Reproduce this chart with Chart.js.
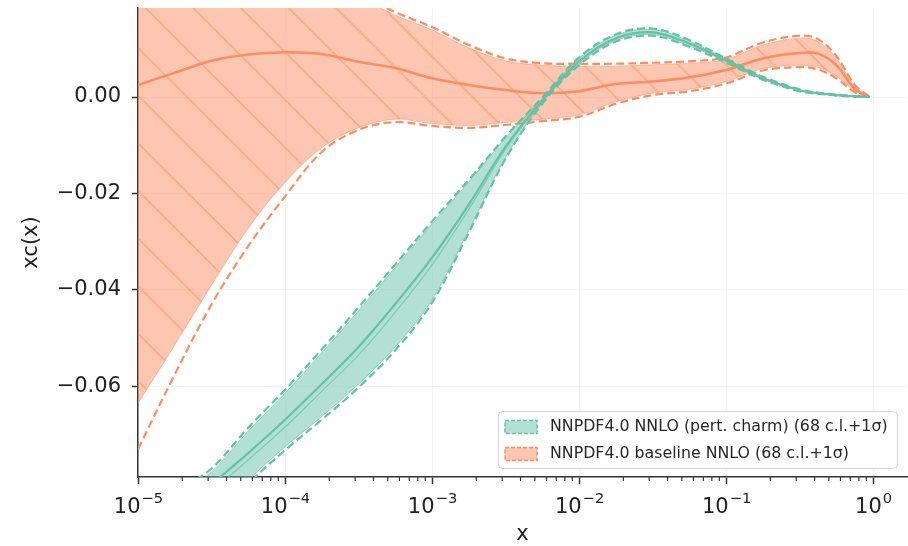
<!DOCTYPE html>
<html lang="en">
<head>
<meta charset="UTF-8">
<title>xc(x) - NNPDF4.0</title>
<script src="https://cdn.jsdelivr.net/npm/chart.js@4.4.1/dist/chart.umd.min.js"></script>
<style>
    html, body { margin: 0; padding: 0; background: #fff; }
</style>
</head>
<body>
<canvas id="pdfChart" width="908" height="546"></canvas>
<script>
// x grid (log spaced) shared by every curve
const xValues = [1e-5, 1.778e-5, 3.162e-5, 5.623e-5, 1e-4, 1.778e-4, 3.162e-4, 5.623e-4,
    1e-3, 1.778e-3, 3.162e-3, 5.623e-3, 1e-2, 1.778e-2, 3.162e-2, 5.623e-2,
    0.1, 0.1778, 0.3162, 0.4217, 0.5623, 0.75, 0.95];

// NNPDF4.0 baseline NNLO (orange)
const baseCentral = [0.0025, 0.0050, 0.0075, 0.0088, 0.0093, 0.0089, 0.0073, 0.0060,
    0.0039, 0.0025, 0.00145, 0.0008, 0.0012, 0.0027, 0.0032, 0.0041,
    0.0056, 0.0080, 0.0091, 0.0090, 0.0066, 0.0017, 0.0];
const baseUpper = [0.070, 0.062, 0.050, 0.040, 0.032, 0.026, 0.0208, 0.0170,
    0.0139, 0.0102, 0.0075, 0.0066, 0.0064, 0.0064, 0.0067, 0.0070,
    0.0078, 0.0108, 0.0122, 0.0115, 0.0080, 0.0022, 0.0];
const baseLower = [-0.0635, -0.0514, -0.0390, -0.0272, -0.0177, -0.0105, -0.0064, -0.0046,
    -0.0055, -0.0059, -0.0053, -0.0046, -0.0037, -0.0010, 0.0008, 0.0016,
    0.0032, 0.0059, 0.0066, 0.0061, 0.0043, 0.0013, 0.0];
const baseSigmaUp = [0.071, 0.063, 0.051, 0.041, 0.033, 0.027, 0.0216, 0.0176,
    0.0145, 0.0108, 0.0080, 0.0070, 0.0069, 0.0069, 0.0071, 0.0074,
    0.0082, 0.0113, 0.0127, 0.0120, 0.0085, 0.0025, 0.0];
const baseSigmaDn = [-0.0730, -0.0575, -0.0430, -0.0309, -0.0206, -0.0114, -0.0068, -0.0052,
    -0.0060, -0.0064, -0.0058, -0.0050, -0.0041, -0.0014, 0.0004, 0.0012,
    0.0028, 0.0055, 0.0062, 0.0057, 0.0039, 0.0010, 0.0];

// NNPDF4.0 NNLO perturbative charm (green)
const pertCentral = [-0.0933, -0.0868, -0.0803, -0.0738, -0.0669, -0.0595, -0.0518, -0.0429,
    -0.0333, -0.0223, -0.0103, -0.0007, 0.0074, 0.0122, 0.0134, 0.0111,
    0.0076, 0.0039, 0.0014, 0.0008, 0.0004, 0.00015, 0.0];
const pertMean = [-0.0950, -0.0885, -0.0818, -0.0752, -0.0684, -0.0610, -0.0535, -0.0446,
    -0.0348, -0.0233, -0.0108, -0.0009, 0.0073, 0.0121, 0.0133, 0.0110,
    0.0075, 0.0039, 0.0014, 0.0008, 0.0004, 0.00015, 0.0];
const pertUpper = [-0.0890, -0.0830, -0.0777, -0.0692, -0.0614, -0.0530, -0.0443, -0.0353,
    -0.0263, -0.0176, -0.0085, -0.0003, 0.0080, 0.0128, 0.0140, 0.0116,
    0.0079, 0.0041, 0.0015, 0.0009, 0.00045, 0.00017, 0.0];
const pertLower = [-0.1040, -0.0970, -0.0880, -0.0795, -0.0725, -0.0662, -0.0595, -0.0518,
    -0.0420, -0.0276, -0.0125, -0.0012, 0.0068, 0.0117, 0.0129, 0.0106,
    0.0073, 0.0037, 0.0013, 0.0007, 0.00035, 0.00013, 0.0];
const pertSigmaUp = [-0.0880, -0.0820, -0.0770, -0.0685, -0.0607, -0.0523, -0.0436, -0.0347,
    -0.0258, -0.0172, -0.0082, -0.0001, 0.0082, 0.0130, 0.0142, 0.0118,
    0.0080, 0.0042, 0.0016, 0.0009, 0.0005, 0.0002, 0.0];
const pertSigmaDn = [-0.1050, -0.0980, -0.0887, -0.0802, -0.0732, -0.0669, -0.0602, -0.0525,
    -0.0426, -0.0281, -0.0128, -0.0014, 0.0066, 0.0115, 0.0127, 0.0104,
    0.0071, 0.0036, 0.0012, 0.0007, 0.0003, 0.0001, 0.0];

// axes
const xMajorTicks = [1e-5, 1e-4, 1e-3, 1e-2, 1e-1, 1];
const xTickExponents = ['\u22125', '\u22124', '\u22123', '\u22122', '\u22121', '0'];
const yTicks = [-0.06, -0.04, -0.02, 0.0];
const yTickLabels = ['\u22120.06', '\u22120.04', '\u22120.02', '0.00'];
const legendLabels = ['NNPDF4.0 NNLO (pert. charm) (68 c.l.+1\u03C3)', 'NNPDF4.0 baseline NNLO (68 c.l.+1\u03C3)'];

const GREEN = '#66c2a5';
const ORANGE = '#fc8d62';
const FONT = '"DejaVu Sans", sans-serif';
const AXIS = '#333333';
const TEXT = '#222222';

function toPoints(arr) {
    return arr.map((y, i) => ({ x: xValues[i], y: y }));
}

// '\\' hatch like matplotlib, on top of the translucent orange fill
function makeHatch() {
    const size = 48;
    const c = document.createElement('canvas');
    c.width = size; c.height = size;
    const g = c.getContext('2d');
    g.fillStyle = 'rgba(252,141,98,0.5)';
    g.fillRect(0, 0, size, size);
    g.strokeStyle = 'rgba(252,141,98,0.65)';
    g.lineWidth = 1.3;
    for (const x0 of [-size, 0, size]) {
        g.beginPath();
        g.moveTo(x0, 0);
        g.lineTo(x0 + size, size);
        g.stroke();
    }
    const pat = document.getElementById('pdfChart').getContext('2d').createPattern(c, 'repeat');
    const s = 47.6 / size;
    pat.setTransform(new DOMMatrix([s, 0, 0, s, 42.5, 0]));
    return pat;
}

function line(data, color, width, dash, extra) {
    return Object.assign({
        data: toPoints(data),
        borderColor: color,
        borderWidth: width,
        borderDash: dash || [],
        pointRadius: 0,
        fill: false,
        tension: 0.35
    }, extra || {});
}

const datasets = [
    // green (drawn last = on top)
    line(pertCentral, GREEN, 2.2),
    line(pertMean, 'rgba(102,194,165,0.7)', 1.2),
    line(pertSigmaUp, GREEN, 2.2, [8, 4]),
    line(pertSigmaDn, GREEN, 2.2, [8, 4]),
    line(pertUpper, 'rgba(102,194,165,0.6)', 1, null, { fill: '+1', backgroundColor: 'rgba(102,194,165,0.5)' }),
    line(pertLower, 'rgba(102,194,165,0.6)', 1),
    // orange
    line(baseCentral, ORANGE, 2.5),
    line(baseSigmaUp, ORANGE, 2.2, [8, 4]),
    line(baseSigmaDn, ORANGE, 2.2, [8, 4]),
    line(baseUpper, 'rgba(252,141,98,0.5)', 1, null, { fill: '+1', backgroundColor: makeHatch() }),
    line(baseLower, 'rgba(252,141,98,0.5)', 1)
];

// minor ticks, 10^n tick labels and the legend box
const decorPlugin = {
    id: 'decor',
    afterDraw(chart) {
        const ctx = chart.ctx;
        const xs = chart.scales.x;
        const area = chart.chartArea;
        ctx.save();
        ctx.strokeStyle = AXIS;
        ctx.lineWidth = 1.2;
        for (let e = -5; e < 0; e++) {
            for (let m = 2; m <= 9; m++) {
                const px = xs.getPixelForValue(m * Math.pow(10, e));
                ctx.beginPath();
                ctx.moveTo(px, area.bottom);
                ctx.lineTo(px, area.bottom + 4);
                ctx.stroke();
            }
        }

        // 10^n labels with a real superscript
        const baseFont = '21px ' + FONT;
        const supFont = '14.7px ' + FONT;
        ctx.fillStyle = TEXT;
        ctx.textBaseline = 'alphabetic';
        ctx.textAlign = 'left';
        xMajorTicks.forEach((v, i) => {
            const px = xs.getPixelForValue(v);
            ctx.font = baseFont;
            const wb = ctx.measureText('10').width;
            ctx.font = supFont;
            const we = ctx.measureText(xTickExponents[i]).width;
            const x0 = px - (wb + we) / 2;
            const base = area.bottom + 36;
            ctx.font = baseFont;
            ctx.fillText('10', x0, base);
            ctx.font = supFont;
            ctx.fillText(xTickExponents[i], x0 + wb + 1, base - 10);
        });

        // legend
        const bx = 498.5, by = 411.5, bw = 399, bh = 57;
        ctx.beginPath();
        ctx.roundRect(bx, by, bw, bh, 4);
        ctx.fillStyle = 'rgba(255,255,255,0.85)';
        ctx.fill();
        ctx.strokeStyle = '#d6d6d6';
        ctx.lineWidth = 1;
        ctx.stroke();

        const rows = [
            { y: 427, fill: 'rgba(102,194,165,0.5)', edge: GREEN },
            { y: 454, fill: 'rgba(252,141,98,0.5)', edge: ORANGE }
        ];
        ctx.font = '15.8px ' + FONT;
        ctx.textBaseline = 'middle';
        rows.forEach((r, i) => {
            ctx.fillStyle = r.fill;
            ctx.fillRect(505, r.y - 6.5, 32, 13);
            ctx.setLineDash([4, 2]);
            ctx.strokeStyle = r.edge;
            ctx.lineWidth = 1.5;
            ctx.strokeRect(505, r.y - 6.5, 32, 13);
            ctx.setLineDash([]);
            ctx.fillStyle = '#262626';
            ctx.fillText(legendLabels[i], 550, r.y);
        });
        ctx.restore();
    }
};

new Chart(document.getElementById('pdfChart').getContext('2d'), {
    type: 'line',
    data: { datasets: datasets },
    options: {
        responsive: false,
        animation: false,
        layout: { padding: { top: 8, right: 1, left: 0, bottom: 0 } },
        plugins: {
            legend: { display: false },
            tooltip: { enabled: false }
        },
        scales: {
            x: {
                type: 'logarithmic',
                min: 1e-5,
                max: 1.70,
                afterBuildTicks: (s) => { s.ticks = xMajorTicks.map(v => ({ value: v })); },
                afterFit: (s) => { s.height = 69; s.paddingLeft = 0; s.paddingRight = 0; },
                ticks: {
                    autoSkip: false,
                    maxRotation: 0,
                    padding: 9,
                    font: { family: FONT, size: 21 },
                    callback: () => ''
                },
                grid: {
                    color: 'rgba(0,0,0,0.045)',
                    tickLength: 7,
                    tickColor: AXIS,
                    tickWidth: 1.5
                },
                border: { display: true, color: AXIS, width: 1.5 },
                title: {
                    display: true,
                    text: 'x',
                    color: TEXT,
                    font: { family: FONT, size: 21, lineHeight: 1.05 },
                    padding: { top: 0, bottom: 0 }
                }
            },
            y: {
                type: 'linear',
                min: -0.07876,
                max: 0.01845,
                afterBuildTicks: (s) => { s.ticks = yTicks.map(v => ({ value: v })); },
                afterFit: (s) => { s.width = 138; s.paddingTop = 0; s.paddingBottom = 0; },
                ticks: {
                    padding: 11,
                    color: TEXT,
                    font: { family: FONT, size: 21 },
                    callback: (v, i) => yTickLabels[i]
                },
                grid: {
                    color: 'rgba(0,0,0,0.045)',
                    tickLength: 6,
                    tickColor: AXIS,
                    tickWidth: 1.5
                },
                border: { display: true, color: AXIS, width: 1.5 },
                title: {
                    display: true,
                    text: 'xc(x)',
                    color: TEXT,
                    font: { family: FONT, size: 21, lineHeight: 1.2 },
                    padding: { top: 19, bottom: 0 }
                }
            }
        }
    },
    plugins: [decorPlugin]
});
</script>
</body>
</html>
